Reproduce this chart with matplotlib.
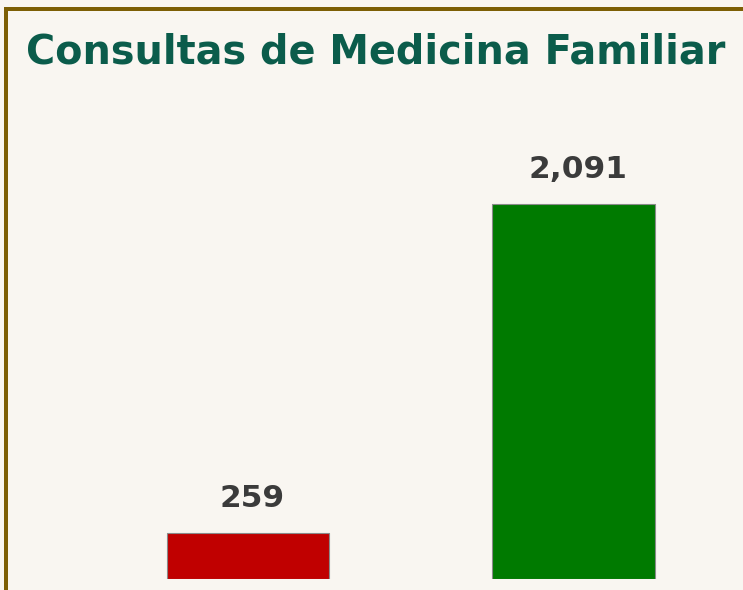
import matplotlib
matplotlib.use("Agg")
import matplotlib.pyplot as plt
from matplotlib.patches import Rectangle

categories = ["A", "B"]
values = [259, 2091]
labels = ["259", "2,091"]
colors = ["#c00000", "#007a00"]
title = "Consultas de Medicina Familiar"

W, H = 743, 590
fig = plt.figure(figsize=(W / 100, H / 100), dpi=100)
fig.patch.set_facecolor("#f9f6f1")

# frame
frame_col = "#7d5f05"
fig.patches.append(Rectangle((4 / W, 0), 4 / W, (H - 7) / H, transform=fig.transFigure,
                             facecolor=frame_col, edgecolor="none", zorder=5))
fig.patches.append(Rectangle((4 / W, (H - 11) / H), (W - 4) / W, 4 / H, transform=fig.transFigure,
                             facecolor=frame_col, edgecolor="none", zorder=5))

ax = fig.add_axes([0, (H - 579) / H, 1, (579 - 100) / H])
ax.set_facecolor("none")
x = range(len(values))
bars = ax.bar(x, values, width=0.5, color=colors, edgecolor="#8a8a8a", linewidth=0.8)
ax.set_xlim(-0.762, 1.521)
ax.set_ylim(0, 2671)
ax.axis("off")

for b, lab in zip(bars, labels):
    ax.annotate(lab, (b.get_x() + b.get_width() / 2, b.get_height()),
                xytext=(3, 24.5), textcoords="offset points", ha="center", va="center",
                fontsize=22.5, fontweight="bold", color="#3b3b3b", family="DejaVu Sans")

fig.text(376 / W, 1 - 52 / H, title, ha="center", va="center", fontsize=28.6,
         fontweight="bold", color="#0b5c4b", family="DejaVu Sans")

fig.savefig("out.png", dpi=100)
